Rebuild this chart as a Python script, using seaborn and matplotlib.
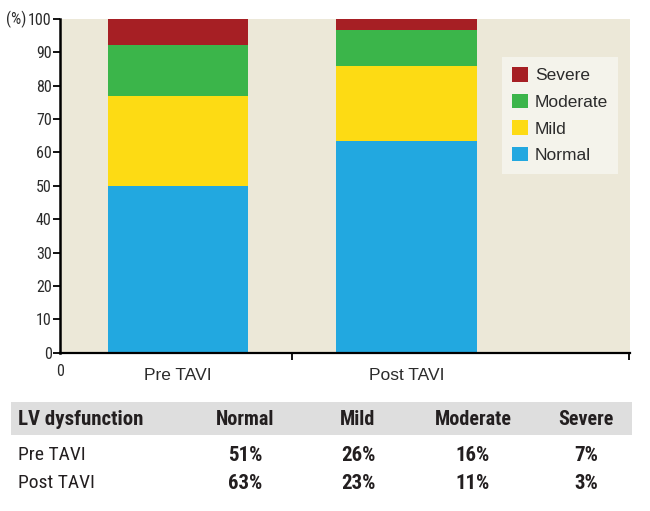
import matplotlib
matplotlib.use("Agg")
import matplotlib.pyplot as plt
import seaborn as sns
import pandas as pd
import numpy as np
from matplotlib.patches import Rectangle, Patch
from matplotlib.ticker import FixedLocator

# ---- data ----
groups = ["Pre TAVI", "Post TAVI"]
levels = ["Normal", "Mild", "Moderate", "Severe"]
pre_bar = [50.0, 26.8, 15.3, 7.9]
post_bar = [63.3, 22.7, 10.6, 3.4]
pre_pct = [51, 26, 16, 7]             # table values
post_pct = [63, 23, 11, 3]
yticks = list(range(0, 101, 10))
colors = {"Normal": "#22A8E0", "Mild": "#FDDB14", "Moderate": "#3BB54A", "Severe": "#A61F24"}

sns.set_theme(style="white")
plt.rcParams['font.family'] = ['Liberation Sans', 'DejaVu Sans']
NARROW = ['Roboto Condensed', 'Liberation Sans', 'DejaVu Sans']
TXT = "#2b2b2b"

rows = []
for g, vals in zip(groups, [pre_bar, post_bar]):
    cum = np.cumsum(vals)
    for lev, c in zip(levels, cum):
        rows.append({"group": g, "level": lev, "cum": c})
df = pd.DataFrame(rows)

fig = plt.figure(figsize=(6.5, 5.11), dpi=100)
ax = fig.add_axes([60/650, 0.3098, 570/650, 0.6530])
ax.set_facecolor("#ECE8D8")

for lev in reversed(levels):
    sub = df[df["level"] == lev]
    sns.barplot(data=sub, x="group", y="cum", color=colors[lev], saturation=1,
                width=0.613, ax=ax, edgecolor="none", linewidth=0, order=groups)

ax.set_xlim(-0.516, 1.978)
ax.set_ylim(0, 100)
ax.set_xlabel("")
ax.set_ylabel("")

for s in ["top", "right"]:
    ax.spines[s].set_visible(False)
ax.spines["left"].set_color("black")
ax.spines["left"].set_linewidth(1.8)
ax.spines["bottom"].set_color("black")
ax.spines["bottom"].set_linewidth(1.6)

ax.set_yticks(yticks)
ax.set_yticklabels([str(v) for v in yticks], fontfamily=NARROW, fontsize=11.5, color=TXT)
ax.tick_params(axis="y", which="major", direction="out", length=5, width=1.3, color="black", pad=1, left=True)

ax.set_xticks([0, 1])
ax.set_xticklabels(groups, fontsize=12.5, color=TXT)
ax.tick_params(axis="x", which="major", length=0, pad=11)
ax.xaxis.set_minor_locator(FixedLocator([0.5, 1.975]))
ax.tick_params(axis="x", which="minor", direction="out", length=5, width=1.3, color="black", bottom=True)

# "0" under origin and "(%)" next to 100
ax.annotate("0", xy=(0, 0), xycoords="axes fraction", xytext=(0, -8), textcoords="offset points",
            ha="center", va="top", fontfamily=NARROW, fontsize=11.5, color=TXT)
ax.annotate("(%)", xy=(0, 1), xycoords="axes fraction", xytext=(-24, 0), textcoords="offset points",
            ha="right", va="center", fontfamily=NARROW, fontsize=11.5, color=TXT)

handles = [Patch(facecolor=colors[l], edgecolor="none") for l in reversed(levels)]
leg = ax.legend(handles, list(reversed(levels)), loc="upper left", bbox_to_anchor=(0.775, 0.887),
                borderaxespad=0, frameon=True, fontsize=12.5, handlelength=0.9, handleheight=0.9,
                handletextpad=0.4, labelspacing=0.6, borderpad=0.6, fancybox=False)
leg.get_frame().set_facecolor("#F7F6F1")
leg.get_frame().set_edgecolor("none")
for t in leg.get_texts():
    t.set_color(TXT)

# ---- table below ----
fig.patches.append(Rectangle((11/650, (511-435)/511), (632-11)/650, 33/511, transform=fig.transFigure,
                             facecolor="#DEDEDE", edgecolor="none", zorder=0))
col_x = [245/650, 358/650, 473/650, 586/650]
y_head = 1 - 419/511
y_r1 = 1 - 455/511
y_r2 = 1 - 483/511
fig.text(18/650, y_head, "LV dysfunction", ha="left", va="center", fontfamily=NARROW,
         fontweight="bold", fontsize=15, color="#231F20")
for x, lev in zip(col_x, levels):
    fig.text(x, y_head, lev, ha="center", va="center", fontfamily=NARROW, fontweight="bold",
             fontsize=14.5, color="#231F20")
for y, name, vals in [(y_r1, groups[0], pre_pct), (y_r2, groups[1], post_pct)]:
    fig.text(18/650, y, name, ha="left", va="center", fontfamily=NARROW, fontsize=14, color="#231F20")
    for x, v in zip(col_x, vals):
        fig.text(x, y, f"{v}%", ha="center", va="center", fontfamily=NARROW, fontweight="bold",
                 fontsize=15, color="#231F20")

fig.savefig("out.png", dpi=100, facecolor="white")
